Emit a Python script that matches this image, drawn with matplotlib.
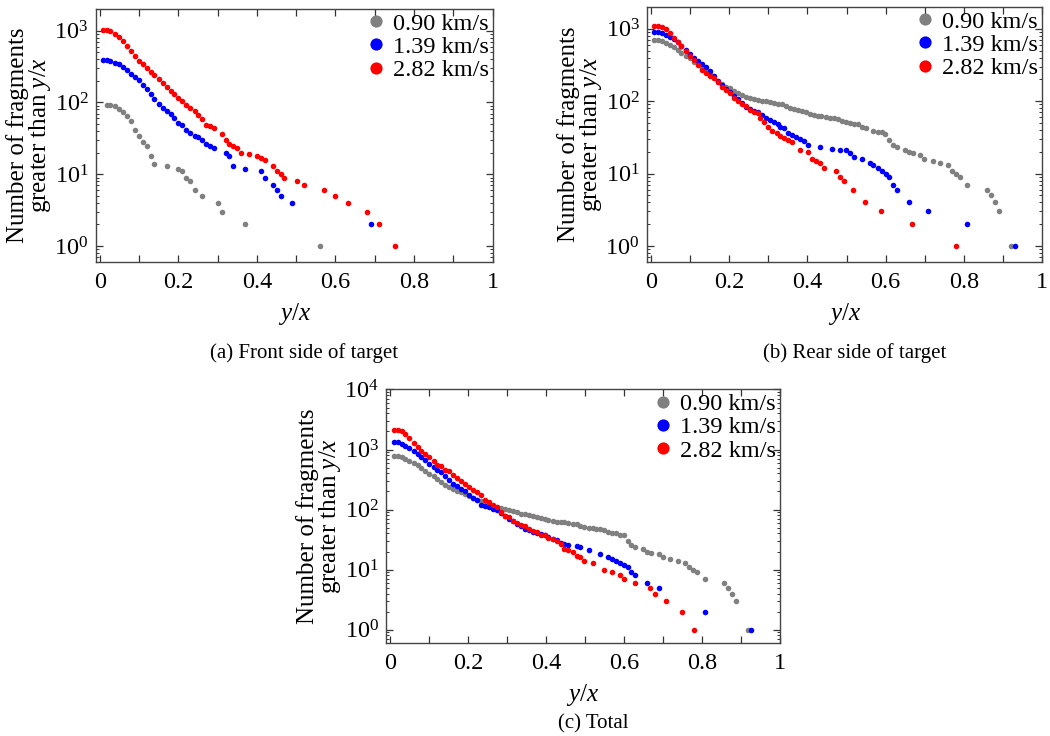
import numpy as np
import matplotlib
matplotlib.use('Agg')
import matplotlib.pyplot as plt
from matplotlib.ticker import LogLocator, NullFormatter, FixedLocator, FixedFormatter

plt.rcParams['font.family'] = 'Liberation Serif'
plt.rcParams['mathtext.fontset'] = 'custom'
plt.rcParams['mathtext.rm'] = 'Liberation Serif'
plt.rcParams['mathtext.it'] = 'Liberation Serif:style=italic'

labels = ['0.90 km/s', '1.39 km/s', '2.82 km/s']
colors = ['#808080', '#0000ff', '#ff0000']

# (a) front side
a_gray_x = [0.017, 0.027, 0.038, 0.048, 0.059, 0.069, 0.079, 0.089, 0.099, 0.109, 0.119, 0.129,
            0.139, 0.170, 0.200, 0.210, 0.220, 0.230, 0.241, 0.260, 0.300, 0.310, 0.370, 0.560]
a_gray_y = [93, 91, 88, 82, 73, 65, 55, 41, 34, 28, 25, 18, 14, 13, 12, 11, 9, 8, 6, 5, 4, 3, 2, 1]
a_blue_x = [0.007, 0.017, 0.027, 0.038, 0.048, 0.059, 0.069, 0.079, 0.089, 0.099, 0.109, 0.119,
            0.129, 0.139, 0.150, 0.160, 0.170, 0.180, 0.190, 0.200, 0.210, 0.220, 0.230, 0.241,
            0.250, 0.260, 0.270, 0.280, 0.290, 0.320, 0.330, 0.339, 0.370, 0.410, 0.420, 0.440,
            0.450, 0.460, 0.490, 0.690]
a_blue_y = [389, 389, 373, 357, 339, 308, 280, 252, 224, 202, 174, 155, 132, 112, 95, 83, 77, 69,
            60, 52, 49, 41, 38, 34, 33, 30, 26, 25, 23, 20, 18, 13, 12, 11, 9, 7, 6, 5, 4, 2]
a_red_x = [0.007, 0.017, 0.027, 0.038, 0.048, 0.059, 0.069, 0.079, 0.089, 0.099, 0.109, 0.119,
           0.129, 0.139, 0.150, 0.160, 0.170, 0.180, 0.190, 0.200, 0.210, 0.220, 0.230, 0.241,
           0.250, 0.260, 0.270, 0.280, 0.290, 0.310, 0.320, 0.330, 0.339, 0.349, 0.360, 0.380,
           0.400, 0.410, 0.420, 0.440, 0.450, 0.460, 0.470, 0.502, 0.520, 0.570, 0.600, 0.631,
           0.680, 0.711, 0.751]
a_red_y = [1011, 1011, 979, 909, 817, 712, 607, 518, 442, 381, 343, 301, 265, 239, 210, 185, 166,
           145, 132, 116, 105, 93, 83, 75, 66, 58, 48, 47, 44, 36, 30, 26, 25, 23, 20, 19, 18, 17,
           16, 13, 11, 10, 9, 8, 7, 6, 5, 4, 3, 2, 1]

# (b) rear side
b_gray_x = [0.007, 0.017, 0.027, 0.038, 0.048, 0.058, 0.068, 0.078, 0.089, 0.099, 0.109, 0.119,
            0.130, 0.140, 0.150, 0.160, 0.171, 0.181, 0.191, 0.201, 0.211, 0.222, 0.232, 0.242,
            0.252, 0.263, 0.273, 0.283, 0.293, 0.304, 0.314, 0.324, 0.334, 0.344, 0.355, 0.365,
            0.375, 0.385, 0.396, 0.406, 0.416, 0.426, 0.436, 0.447, 0.457, 0.467, 0.477, 0.488,
            0.498, 0.510, 0.520, 0.530, 0.539, 0.549, 0.569, 0.580, 0.590, 0.598, 0.609, 0.619,
            0.629, 0.650, 0.660, 0.670, 0.689, 0.699, 0.720, 0.740, 0.759, 0.769, 0.779, 0.790,
            0.809, 0.860, 0.870, 0.880, 0.890, 0.920]
b_gray_y = [703, 703, 681, 646, 600, 557, 511, 460, 427, 392, 353, 324, 291, 270, 235, 207, 186,
            171, 159, 151, 140, 128, 122, 116, 110, 106, 104, 102, 101, 97, 95, 92, 90, 86, 81, 78,
            75, 73, 70, 67, 64, 63, 62, 61, 59, 58, 56, 53, 51, 50, 49, 48, 44, 42, 39, 38, 37, 35,
            29, 25, 23, 21, 20, 19, 18, 16, 15, 14, 13, 11, 10, 9, 7, 6, 5, 4, 3, 1]
b_blue_x = [0.007, 0.017, 0.027, 0.038, 0.048, 0.058, 0.068, 0.078, 0.089, 0.099, 0.109, 0.119,
            0.130, 0.140, 0.150, 0.160, 0.171, 0.181, 0.191, 0.201, 0.211, 0.222, 0.232, 0.242,
            0.252, 0.263, 0.273, 0.283, 0.293, 0.304, 0.314, 0.324, 0.331, 0.341, 0.351, 0.361,
            0.372, 0.382, 0.392, 0.402, 0.431, 0.462, 0.483, 0.498, 0.508, 0.518, 0.539, 0.559,
            0.569, 0.580, 0.590, 0.600, 0.609, 0.619, 0.629, 0.660, 0.709, 0.809, 0.930]
b_blue_y = [898, 898, 870, 825, 782, 719, 653, 587, 511, 450, 401, 364, 327, 294, 262, 223, 190,
            168, 148, 133, 119, 106, 93, 84, 78, 74, 70, 64, 59, 55, 51, 49, 44, 42, 36, 34, 32, 30,
            28, 25, 23, 22, 21, 21, 19, 17, 16, 14, 13, 12, 11, 10, 9, 7, 6, 4, 3, 2, 1]
b_red_x = [0.007, 0.017, 0.027, 0.038, 0.048, 0.058, 0.068, 0.078, 0.089, 0.099, 0.109, 0.119,
           0.130, 0.140, 0.150, 0.160, 0.171, 0.181, 0.191, 0.201, 0.211, 0.222, 0.232, 0.242,
           0.252, 0.263, 0.273, 0.280, 0.290, 0.300, 0.310, 0.321, 0.331, 0.341, 0.351, 0.361,
           0.382, 0.401, 0.411, 0.421, 0.431, 0.442, 0.472, 0.483, 0.493, 0.517, 0.547, 0.588,
           0.668, 0.779]
b_red_y = [1076, 1076, 1042, 988, 870, 742, 667, 587, 495, 427, 372, 317, 270, 243, 223, 212, 182,
           159, 143, 128, 110, 102, 92, 86, 76, 70, 68, 59, 51, 44, 39, 36, 33, 31, 29, 27, 21, 20,
           16, 15, 14, 12, 11, 9, 8, 6, 4, 3, 2, 1]

# (c) total
c_gray_x = [0.009, 0.019, 0.029, 0.039, 0.049, 0.060, 0.070, 0.080, 0.090, 0.100, 0.111, 0.121,
            0.131, 0.141, 0.151, 0.162, 0.172, 0.182, 0.192, 0.202, 0.213, 0.223, 0.233, 0.243,
            0.253, 0.264, 0.274, 0.284, 0.294, 0.304, 0.315, 0.325, 0.335, 0.345, 0.355, 0.366,
            0.376, 0.386, 0.396, 0.406, 0.417, 0.427, 0.437, 0.447, 0.457, 0.468, 0.478, 0.488,
            0.498, 0.509, 0.519, 0.529, 0.539, 0.549, 0.560, 0.570, 0.580, 0.590, 0.600, 0.609,
            0.619, 0.629, 0.648, 0.658, 0.668, 0.689, 0.699, 0.718, 0.738, 0.757, 0.767, 0.777,
            0.787, 0.807, 0.857, 0.867, 0.878, 0.888, 0.917]
c_gray_y = [794, 794, 755, 708, 656, 599, 548, 489, 435, 393, 359, 324, 289, 261, 239, 221, 207,
            197, 182, 167, 156, 147, 138, 129, 121, 114, 111, 107, 104, 100, 94, 90, 86, 83, 80, 77,
            75, 73, 70, 66, 65, 63, 62, 61, 60, 58, 57, 54, 51, 50, 49, 48, 47, 45, 42, 41, 40, 38,
            37, 30, 26, 24, 22, 20, 19, 18, 16, 15, 14, 13, 11, 10, 9, 7, 6, 5, 4, 3, 1]
c_blue_x = [0.009, 0.019, 0.029, 0.039, 0.049, 0.060, 0.070, 0.080, 0.090, 0.100, 0.111, 0.121,
            0.131, 0.141, 0.151, 0.162, 0.172, 0.182, 0.192, 0.202, 0.213, 0.223, 0.233, 0.243,
            0.253, 0.264, 0.274, 0.284, 0.294, 0.304, 0.315, 0.325, 0.335, 0.345, 0.355, 0.366,
            0.376, 0.386, 0.396, 0.406, 0.417, 0.427, 0.437, 0.447, 0.457, 0.478, 0.488, 0.509,
            0.539, 0.560, 0.570, 0.580, 0.590, 0.600, 0.611, 0.619, 0.628, 0.659, 0.689, 0.807,
            0.927]
c_blue_y = [1325, 1325, 1259, 1166, 1066, 962, 847, 755, 664, 584, 514, 464, 419, 369, 316, 271,
            245, 221, 202, 178, 156, 143, 121, 114, 111, 104, 97, 88, 77, 71, 64, 58, 54, 48, 45,
            43, 41, 39, 38, 35, 32, 31, 28, 27, 26, 25, 24, 21, 18, 16, 15, 14, 13, 12, 11, 9, 8,
            6, 5, 2, 1]
c_red_x = [0.009, 0.019, 0.029, 0.039, 0.049, 0.060, 0.070, 0.080, 0.090, 0.100, 0.111, 0.121,
           0.131, 0.141, 0.151, 0.162, 0.172, 0.182, 0.192, 0.202, 0.213, 0.223, 0.233, 0.243,
           0.253, 0.264, 0.274, 0.284, 0.294, 0.304, 0.315, 0.325, 0.335, 0.345, 0.355, 0.366,
           0.376, 0.386, 0.396, 0.406, 0.417, 0.427, 0.437, 0.447, 0.457, 0.468, 0.478, 0.488,
           0.498, 0.519, 0.548, 0.569, 0.589, 0.599, 0.628, 0.667, 0.679, 0.708, 0.748, 0.779]
c_red_y = [2100, 2100, 2020, 1848, 1565, 1292, 1108, 962, 847, 745, 639, 555, 527, 464, 435, 383,
           341, 297, 268, 236, 210, 194, 178, 147, 133, 121, 111, 90, 79, 75, 64, 60, 56, 53, 48,
           44, 43, 38, 37, 33, 32, 30, 27, 22, 21, 20, 17, 16, 14, 13, 10, 9, 8, 7, 6, 5, 4, 3, 2,
           1]

panels = [
    ([0.0910, 0.6440, 0.3781, 0.3438], (0.6, 2000),
     [(a_gray_x, a_gray_y), (a_blue_x, a_blue_y), (a_red_x, a_red_y)]),
    ([0.6159, 0.6440, 0.3765, 0.3465], (0.6, 2000),
     [(b_gray_x, b_gray_y), (b_blue_x, b_blue_y), (b_red_x, b_red_y)]),
    ([0.3676, 0.1264, 0.3752, 0.3444], (0.6, 10000),
     [(c_gray_x, c_gray_y), (c_blue_x, c_blue_y), (c_red_x, c_red_y)]),
]
captions = ['(a) Front side of target', '(b) Rear side of target', '(c) Total']

fig = plt.figure(figsize=(10.5, 7.36), dpi=100)

xt = [round(0.1 * i, 1) for i in range(11)]
xtl = ['0', '', '0.2', '', '0.4', '', '0.6', '', '0.8', '', '1']

for k, (pos, ylim, series) in enumerate(panels):
    ax = fig.add_axes(pos)
    for (xs, ys), c, lab in zip(series, colors, labels):
        ax.plot(xs, ys, 'o', color=c, ms=4, mec='none', label=lab)
    ax.set_yscale('log')
    ax.set_xlim(-0.011, 1.0)
    ax.set_ylim(*ylim)
    ax.xaxis.set_major_locator(FixedLocator(xt))
    ax.xaxis.set_major_formatter(FixedFormatter(xtl))
    ax.yaxis.set_major_locator(LogLocator(base=10, numticks=10))
    ax.yaxis.set_minor_locator(LogLocator(base=10, subs=np.arange(2, 10), numticks=10))
    ax.yaxis.set_minor_formatter(NullFormatter())
    ax.tick_params(which='both', direction='in', top=True, right=True, labelsize=17.5,
                   color='#333333')
    ax.tick_params(which='major', length=5, width=0.9, pad=7)
    ax.tick_params(which='minor', length=2.5, width=0.7)
    ax.tick_params(axis='y', which='major', pad=5)
    for s in ax.spines.values():
        s.set_color('#444444')
        s.set_linewidth(1.0)
    ax.set_xlabel('$y/x$', fontsize=18, labelpad=6)
    ax.set_ylabel('Number of fragments\ngreater than $y/x$', fontsize=18,
                  linespacing=0.9, labelpad=1)
    ax.legend(loc='upper right', frameon=False, fontsize=17.5, markerscale=2.2,
              handlelength=0.8, handletextpad=0.3, labelspacing=0.05,
              borderaxespad=0.0, borderpad=0.15)
    cx = pos[0] + pos[2] / 2 + 0.01
    cy = pos[1] - 0.124
    if k == 2:
        cy = pos[1] - 0.11
    fig.text(cx, cy, captions[k], ha='center', va='center', fontsize=15)

fig.savefig('out.png', dpi=100)
